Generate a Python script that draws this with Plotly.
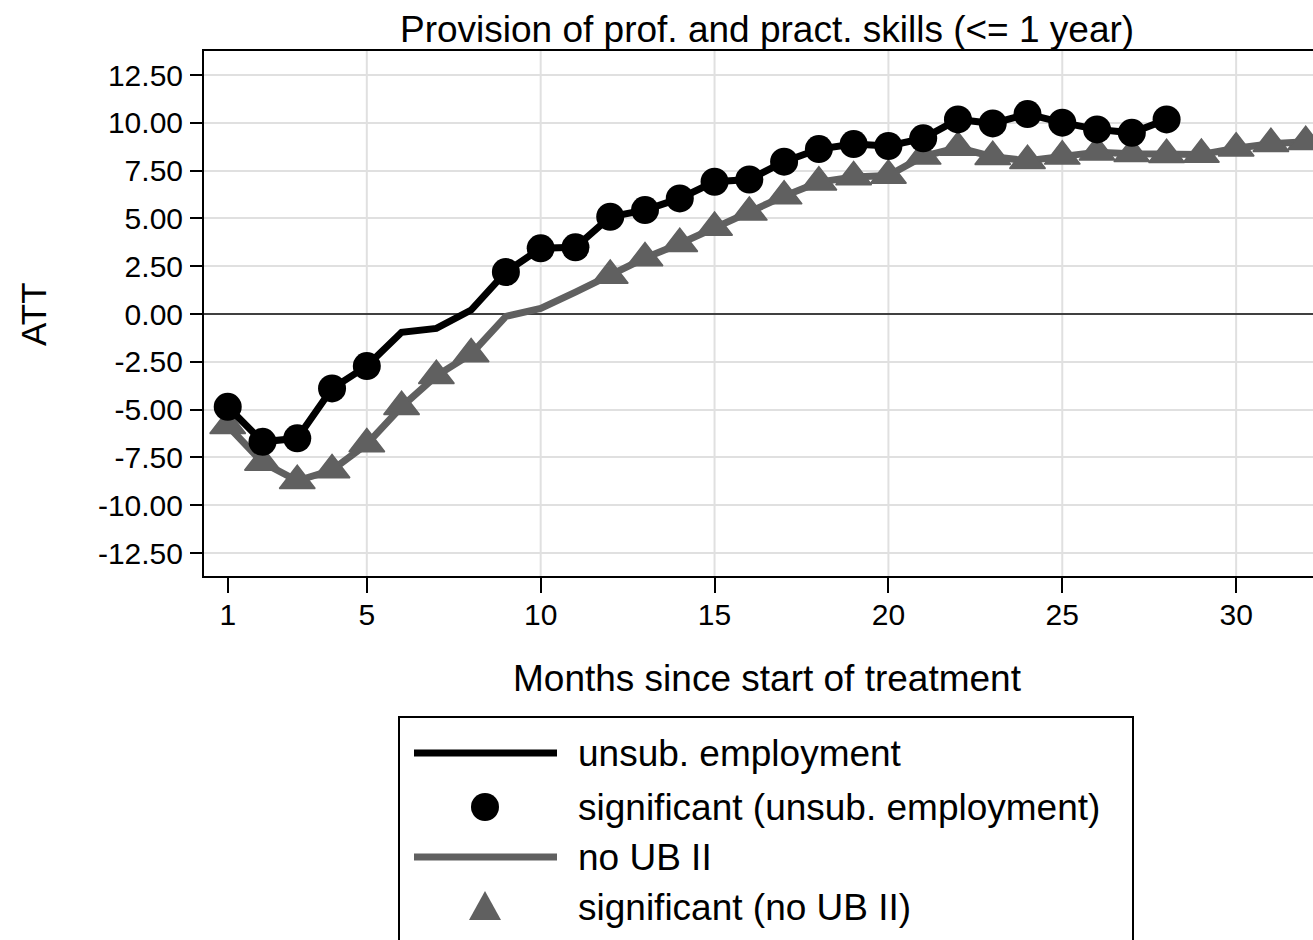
import plotly.graph_objects as go

# ---------------- data ----------------
months_emp = list(range(1, 29))
att_emp = [-4.85, -6.68, -6.50, -3.89, -2.72, -0.95, -0.75, 0.21, 2.20, 3.44,
           3.49, 5.09, 5.44, 6.05, 6.92, 7.04, 7.97, 8.63, 8.89, 8.79,
           9.19, 10.18, 9.97, 10.46, 10.01, 9.66, 9.48, 10.18]
sig_emp = [1, 1, 1, 1, 1, 0, 0, 0, 1, 1,
           1, 1, 1, 1, 1, 1, 1, 1, 1, 1,
           1, 1, 1, 1, 1, 1, 1, 1]

months_ub = list(range(1, 33))
att_ub = [-5.84, -7.76, -8.72, -8.16, -6.80, -4.85, -3.23, -2.09, -0.12, 0.30,
          1.15, 2.02, 2.93, 3.68, 4.53, 5.32, 6.17, 6.90, 7.17, 7.25,
          8.25, 8.71, 8.23, 8.02, 8.25, 8.47, 8.38, 8.33, 8.35, 8.67,
          8.91, 9.01]
sig_ub = [1, 1, 1, 1, 1, 1, 1, 1, 0, 0,
          0, 1, 1, 1, 1, 1, 1, 1, 1, 1,
          1, 1, 1, 1, 1, 1, 1, 1, 1, 1,
          1, 1]

x_ticks = [1, 5, 10, 15, 20, 25, 30]
x_grid = [5, 10, 15, 20, 25, 30]
y_ticks = [-12.5, -10, -7.5, -5, -2.5, 0, 2.5, 5, 7.5, 10, 12.5]
y_ticktext = ["-12.50", "-10.00", "-7.50", "-5.00", "-2.50", "0.00",
              "2.50", "5.00", "7.50", "10.00", "12.50"]

title_text = "Provision of prof. and pract. skills (<= 1 year)"
x_title = "Months since start of treatment"
y_title = "ATT"
legend_labels = ["unsub. employment", "significant (unsub. employment)",
                 "no UB II", "significant (no UB II)"]

# ---------------- style ----------------
BLACK = "#000000"
GRAY = "#606060"
GRID = "#e0e0e0"
FONT = "Liberation Sans, Arial, Helvetica, sans-serif"
BIG = 37
TICK = 30

W, H = 1313, 940
L, R, T, B = 204, 0, 51, 364
PW = W - L - R
PH = H - T - B


def px2x(px):
    return (px - L) / PW


def px2y(py):
    return (H - B - py) / PH


fig = go.Figure()

fig.add_trace(go.Scatter(x=months_ub, y=att_ub, mode="lines",
                         line=dict(color=GRAY, width=7), showlegend=False,
                         name=legend_labels[2]))
fig.add_trace(go.Scatter(
    x=[m for m, s in zip(months_ub, sig_ub) if s],
    y=[v for v, s in zip(att_ub, sig_ub) if s],
    mode="markers",
    marker=dict(symbol="triangle-up", size=31, color=GRAY,
                line=dict(color=GRAY, width=1.5)),
    showlegend=False, name=legend_labels[3]))
fig.add_trace(go.Scatter(x=months_emp, y=att_emp, mode="lines",
                         line=dict(color=BLACK, width=7), showlegend=False,
                         name=legend_labels[0]))
fig.add_trace(go.Scatter(
    x=[m for m, s in zip(months_emp, sig_emp) if s],
    y=[v for v, s in zip(att_emp, sig_emp) if s],
    mode="markers", marker=dict(symbol="circle", size=28, color=BLACK),
    showlegend=False, name=legend_labels[1]))

shapes = []
# vertical grid lines (no grid at 1)
for g in x_grid:
    shapes.append(dict(type="line", xref="x", yref="paper", x0=g, x1=g, y0=0, y1=1,
                       line=dict(color=GRID, width=2), layer="below"))

# legend box and symbols
shapes.append(dict(type="rect", xref="paper", yref="paper",
                   x0=px2x(399), x1=px2x(1133), y0=px2y(717), y1=px2y(1000),
                   line=dict(color=BLACK, width=2), fillcolor="white"))
shapes.append(dict(type="line", xref="paper", yref="paper",
                   x0=px2x(414), x1=px2x(557), y0=px2y(753), y1=px2y(753),
                   line=dict(color=BLACK, width=7)))
shapes.append(dict(type="circle", xref="paper", yref="paper",
                   x0=px2x(471), x1=px2x(499), y0=px2y(793), y1=px2y(821),
                   fillcolor=BLACK, line=dict(color=BLACK, width=0)))
shapes.append(dict(type="line", xref="paper", yref="paper",
                   x0=px2x(414), x1=px2x(557), y0=px2y(857), y1=px2y(857),
                   line=dict(color=GRAY, width=7)))
tri = "M {:.5f},{:.5f} L {:.5f},{:.5f} L {:.5f},{:.5f} Z".format(
    px2x(469), px2y(920), px2x(501), px2y(920), px2x(485), px2y(891))
shapes.append(dict(type="path", xref="paper", yref="paper", path=tri,
                   fillcolor=GRAY, line=dict(color=GRAY, width=0)))

annotations = [
    dict(text=title_text, xref="paper", yref="paper", x=px2x(767), y=px2y(30),
         xanchor="center", yanchor="middle", showarrow=False,
         font=dict(size=BIG, color=BLACK, family=FONT)),
    dict(text=x_title, xref="paper", yref="paper", x=px2x(767), y=px2y(678),
         xanchor="center", yanchor="middle", showarrow=False,
         font=dict(size=BIG, color=BLACK, family=FONT)),
    dict(text=y_title, xref="paper", yref="paper", x=px2x(33), y=px2y(314),
         xanchor="center", yanchor="middle", showarrow=False, textangle=-90,
         font=dict(size=BIG - 2, color=BLACK, family=FONT)),
]
for lab, yc in zip(legend_labels, [753, 807, 857, 907]):
    annotations.append(dict(text=lab, xref="paper", yref="paper", x=px2x(576),
                            y=px2y(yc), xanchor="left", yanchor="middle",
                            showarrow=False,
                            font=dict(size=BIG, color=BLACK, family=FONT)))

fig.update_layout(
    width=W, height=H,
    margin=dict(l=L, r=R, t=T, b=B, pad=0),
    paper_bgcolor="white", plot_bgcolor="white",
    font=dict(family=FONT, color=BLACK),
    shapes=shapes, annotations=annotations,
    xaxis=dict(range=[0.318, 32.21], tickmode="array", tickvals=x_ticks,
               ticks="outside", ticklen=15, tickwidth=2, tickcolor=BLACK,
               showgrid=False, zeroline=False, showline=True, linecolor=BLACK,
               linewidth=2, mirror=True, ticklabelstandoff=-4,
               tickfont=dict(size=TICK, color=BLACK, family=FONT)),
    yaxis=dict(range=[-13.70, 13.76], tickmode="array", tickvals=y_ticks,
               ticktext=y_ticktext, ticks="outside", ticklen=12, tickwidth=2,
               tickcolor=BLACK, showgrid=True, gridcolor=GRID, gridwidth=2,
               zeroline=True, zerolinecolor="#404040", zerolinewidth=2,
               showline=True, linecolor=BLACK, linewidth=2, mirror=False,
               ticklabelstandoff=1,
               tickfont=dict(size=TICK, color=BLACK, family=FONT)),
)

fig.write_html("out.html",
               config={"displayModeBar": False},
               post_script="document.body.style.margin='0px';"
                           "document.body.style.overflow='hidden';")
